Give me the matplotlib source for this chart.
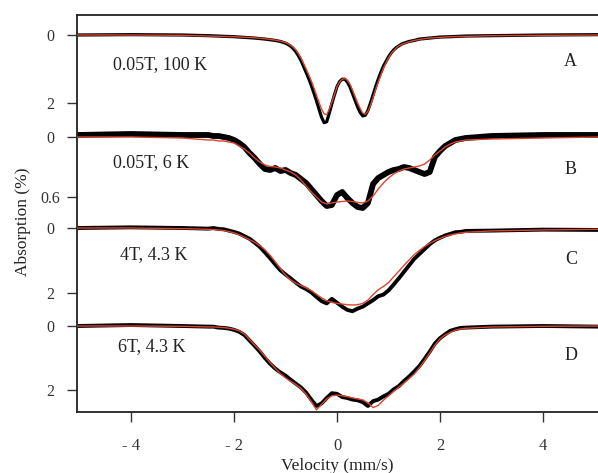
import matplotlib
matplotlib.use("Agg")
import matplotlib.pyplot as plt
import numpy as np

plt.rcParams['font.family'] = ['Liberation Serif', 'DejaVu Serif']

# Velocity grid (mm/s) for spectra B, C and D
velocity = [-5.05, -4.0, -3.0,
            -2.5, -2.4, -2.3, -2.2, -2.1, -2.0, -1.9, -1.8, -1.7, -1.6,
            -1.5, -1.4, -1.3, -1.2, -1.1, -1.0, -0.9, -0.8, -0.7, -0.6,
            -0.5, -0.4, -0.3, -0.2, -0.1, 0.0, 0.1, 0.2, 0.3, 0.4,
            0.5, 0.6, 0.7, 0.8, 0.9, 1.0, 1.1, 1.2, 1.3, 1.4,
            1.5, 1.6, 1.7, 1.8, 1.9, 2.0, 2.1, 2.2, 2.3, 2.4, 2.5,
            3.0, 4.0, 5.1]

# Finer grid for the narrow doublet of spectrum A
velocity_a = [-5.05, -4.0, -3.0, -2.5, -2.0, -1.6, -1.4, -1.2, -1.1,
              -1.0, -0.95, -0.9, -0.85, -0.8, -0.75, -0.7, -0.65, -0.6,
              -0.55, -0.5, -0.45, -0.4, -0.35, -0.3, -0.25, -0.2, -0.15,
              -0.1, -0.05, 0.0, 0.05, 0.1, 0.15, 0.2, 0.25, 0.3, 0.35,
              0.4, 0.45, 0.5, 0.55, 0.6, 0.65, 0.7, 0.75, 0.8, 0.85,
              0.9, 0.95, 1.0, 1.05, 1.1, 1.15, 1.2, 1.25,
              1.3, 1.4, 1.5, 1.6, 1.8, 2.0, 2.2, 2.5, 3.0, 4.0, 5.1]

# A: 0.05 T, 100 K  (absorption, %)
a_data = [0.0, -0.01, 0.0, 0.02, 0.05, 0.09, 0.12, 0.16, 0.19,
          0.24, 0.28, 0.33, 0.40, 0.49, 0.61, 0.75, 0.92, 1.10,
          1.28, 1.48, 1.70, 1.93, 2.18, 2.42, 2.58, 2.55, 2.30,
          2.02, 1.76, 1.52, 1.37, 1.30, 1.30, 1.38, 1.52, 1.72, 1.92,
          2.12, 2.28, 2.38, 2.36, 2.22, 2.00, 1.76, 1.52, 1.30, 1.10,
          0.92, 0.78, 0.64, 0.53, 0.44, 0.37, 0.32, 0.27,
          0.24, 0.19, 0.16, 0.12, 0.09, 0.06, 0.05, 0.03, 0.02, 0.0, -0.01]
a_fit = [0.0, 0.0, 0.01, 0.03, 0.05, 0.08, 0.11, 0.15, 0.18,
         0.22, 0.26, 0.30, 0.36, 0.44, 0.55, 0.68, 0.84, 1.00,
         1.17, 1.35, 1.55, 1.77, 1.98, 2.18, 2.32, 2.34, 2.18,
         1.97, 1.75, 1.52, 1.38, 1.30, 1.28, 1.33, 1.45, 1.62, 1.81,
         2.00, 2.16, 2.30, 2.33, 2.24, 2.07, 1.84, 1.60, 1.38, 1.18,
         0.98, 0.82, 0.67, 0.55, 0.46, 0.38, 0.32, 0.28,
         0.25, 0.20, 0.16, 0.13, 0.09, 0.07, 0.05, 0.04, 0.02, 0.01, 0.0]

# B: 0.05 T, 6 K
b_data = [-0.02, -0.03, -0.02,
          -0.02, -0.01, -0.01, 0.0, 0.01, 0.03, 0.06, 0.10, 0.16, 0.21,
          0.27, 0.32, 0.33, 0.31, 0.34, 0.33, 0.36, 0.38, 0.42, 0.46,
          0.52, 0.58, 0.64, 0.69, 0.68, 0.58, 0.55, 0.61, 0.66, 0.70,
          0.71, 0.66, 0.47, 0.41, 0.38, 0.35, 0.33, 0.32, 0.30, 0.31,
          0.33, 0.35, 0.37, 0.35, 0.20, 0.14, 0.09, 0.06, 0.03, 0.02, 0.01,
          -0.01, -0.02, -0.02]
b_fit = [0.0, 0.0, 0.01,
         0.03, 0.03, 0.04, 0.04, 0.05, 0.06, 0.09, 0.12, 0.16, 0.21,
         0.25, 0.28, 0.295, 0.30, 0.31, 0.33, 0.35, 0.38, 0.43, 0.49,
         0.55, 0.60, 0.65, 0.67, 0.66, 0.65, 0.645, 0.64, 0.645, 0.655,
         0.66, 0.64, 0.59, 0.52, 0.46, 0.41, 0.37, 0.34, 0.32, 0.31,
         0.30, 0.29, 0.27, 0.23, 0.18, 0.14, 0.10, 0.07, 0.05, 0.04, 0.03,
         0.02, 0.01, 0.0]

# C: 4 T, 4.3 K
c_data = [0.0, -0.02, 0.0,
          0.02, 0.0, 0.03, 0.04, 0.08, 0.12, 0.17, 0.25, 0.33, 0.45,
          0.58, 0.75, 0.93, 1.12, 1.30, 1.43, 1.55, 1.68, 1.80, 1.88,
          1.98, 2.12, 2.25, 2.32, 2.18, 2.30, 2.42, 2.52, 2.56, 2.48,
          2.42, 2.32, 2.22, 2.10, 2.05, 1.92, 1.74, 1.55, 1.35, 1.15,
          0.95, 0.80, 0.65, 0.50, 0.38, 0.30, 0.23, 0.18, 0.13, 0.12, 0.09,
          0.08, 0.05, 0.06]
c_fit = [0.0, 0.0, 0.02,
         0.04, 0.05, 0.06, 0.08, 0.11, 0.15, 0.21, 0.28, 0.36, 0.44,
         0.54, 0.67, 0.84, 1.04, 1.25, 1.45, 1.60, 1.70, 1.77, 1.84,
         1.93, 2.04, 2.15, 2.24, 2.29, 2.32, 2.34, 2.36, 2.37, 2.36,
         2.32, 2.22, 2.05, 1.90, 1.80, 1.68, 1.50, 1.33, 1.15, 0.98,
         0.82, 0.69, 0.57, 0.47, 0.39, 0.32, 0.26, 0.21, 0.18, 0.15, 0.13,
         0.09, 0.06, 0.04]

# D: 6 T, 4.3 K
d_data = [0.0, -0.03, 0.0,
          0.02, 0.02, 0.05, 0.06, 0.08, 0.12, 0.18, 0.28, 0.45, 0.62,
          0.80, 1.00, 1.18, 1.33, 1.45, 1.55, 1.68, 1.80, 1.92, 2.08,
          2.30, 2.50, 2.42, 2.25, 2.10, 2.12, 2.22, 2.25, 2.30, 2.32,
          2.38, 2.50, 2.35, 2.30, 2.20, 2.12, 1.98, 1.88, 1.72, 1.58,
          1.42, 1.25, 1.03, 0.80, 0.55, 0.38, 0.26, 0.15, 0.10, 0.06, 0.05,
          0.02, 0.0, 0.02]
d_fit = [0.0, 0.0, 0.01,
         0.03, 0.03, 0.04, 0.05, 0.07, 0.10, 0.15, 0.25, 0.42, 0.59,
         0.76, 0.95, 1.15, 1.32, 1.49, 1.62, 1.73, 1.83, 1.95, 2.13,
         2.36, 2.62, 2.45, 2.28, 2.18, 2.16, 2.18, 2.21, 2.25, 2.28,
         2.31, 2.40, 2.55, 2.48, 2.32, 2.18, 2.04, 1.91, 1.78, 1.64,
         1.50, 1.30, 1.08, 0.84, 0.60, 0.40, 0.28, 0.20, 0.13, 0.09, 0.07,
         0.03, 0.01, 0.0]

conditions = ['0.05T, 100 K', '0.05T, 6 K', '4T, 4.3 K', '6T, 4.3 K']
letters = ['A', 'B', 'C', 'D']
tick_values = [[0, 2], [0, 0.6], [0, 2], [0, 2]]
tick_texts = [['0', '2'], ['0', '0.6'], ['0', '2'], ['0', '2']]

# Vertical placement of each stacked spectrum (baseline, units per 1 %)
baselines = [35, 137, 228, 326]
gains = [34.0, 100.0, 32.5, 32.0]
noise_widths = [2.3, 4.2, 2.8, 2.8]
label_x = [-4.35, -4.35, -4.22, -4.26]
label_y = [65, 163, 255, 347]
letter_y = [62, 170, 260, 356]

W, H = 598, 473
fig = plt.figure(figsize=(W / 100, H / 100), dpi=100)
ax = fig.add_axes([77 / W, (H - 412) / H, (W - 77) / W, 397 / H])

velocities = [velocity_a, velocity, velocity, velocity]
datasets = [a_data, b_data, c_data, d_data]
fits = [a_fit, b_fit, c_fit, d_fit]
red = '#d8462e'

ticks, tlabels = [], []
for i in range(4):
    y0, g = baselines[i], gains[i]
    vel = np.array(velocities[i])
    ax.plot(vel, y0 + g * np.array(datasets[i]), color='black',
            lw=noise_widths[i], solid_joinstyle='round', zorder=2)
    ax.plot(vel, y0 + g * np.array(fits[i]), color=red, lw=1.0, zorder=3)
    for v, t in zip(tick_values[i], tick_texts[i]):
        ticks.append(y0 + g * v)
        tlabels.append(t)
    ax.text(label_x[i], label_y[i], conditions[i], fontsize=13,
            ha='left', va='center', color='#222222')
    ax.text(4.54, letter_y[i], letters[i], fontsize=13,
            ha='center', va='center', color='#222222')

ax.set_xlim(-5.049, (W - 337) / 51.5)
ax.set_ylim(412, 15)

ax.set_yticks(ticks)
ax.set_yticklabels(tlabels, fontsize=11.5)
for lab in ax.get_yticklabels():
    lab.set_horizontalalignment('center')
ax.tick_params(axis='y', direction='out', length=7, width=1.0, pad=12,
               colors='#333333')

ax.set_xticks([-4, -2, 0, 2, 4])
ax.set_xticklabels(['- 4', '- 2', '0', '2', '4'], fontsize=12)
ax.tick_params(axis='x', direction='out', length=7, width=1.0, pad=12,
               colors='#333333')

ax.spines['right'].set_visible(False)
for s in ['top', 'bottom', 'left']:
    ax.spines[s].set_linewidth(1.3)
    ax.spines[s].set_color('#222222')

fig.text(337 / W, 1 - 466 / H, 'Velocity (mm/s)', fontsize=12.5,
         ha='center', va='center', color='#222222')
fig.text(23 / W, 1 - 222 / H, 'Absorption (%)', fontsize=12.5,
         ha='center', va='center', rotation=90, color='#222222')

fig.savefig('out.png', dpi=100)
